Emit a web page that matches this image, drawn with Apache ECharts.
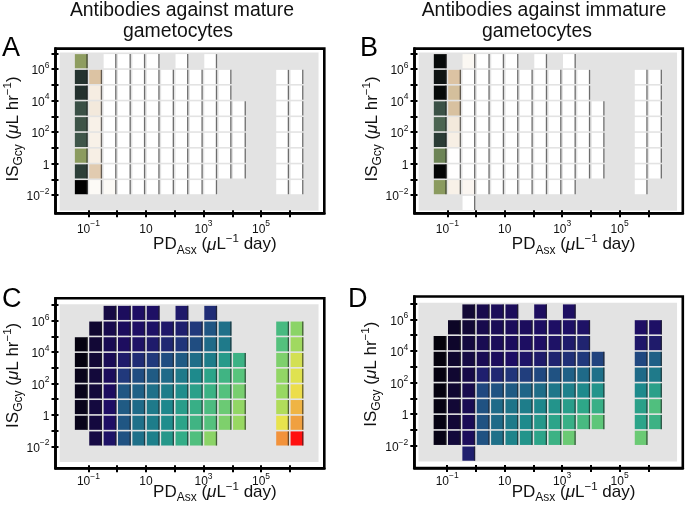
<!DOCTYPE html>
<html><head><meta charset="utf-8">
<script src="https://cdn.jsdelivr.net/npm/echarts@6/dist/echarts.min.js"></script>
<style>html,body{margin:0;padding:0;background:#fff}#c{width:685px;height:505px}</style>
</head><body><div id="c"></div>
<script>
const n = null;
// log10 lower edges of the bins
const xBinLows = [-1.5,-1,-0.5,0,0.5,1,1.5,2,2.5,3,3.5,4,4.5,5,5.5,6];
const yBinLows = [6,5,4,3,2,1,0,-1,-2,-3]; // rows top -> bottom
const xTickExps = [-1,0,1,2,3,4,5,6];
const yTickExps = [-2,-1,0,1,2,3,4,5,6,7];
const xLabelExps = [-1,1,3,5];
const xTickLabels = ['10^−1','10','10^3','10^5'];
const yLabelExps = [6,4,2,0,-2];
const yTickLabels = ['10^6','10^4','10^2','1','10^−2'];
const titles = ['Antibodies against mature\ngametocytes','Antibodies against immature\ngametocytes'];
const panelLetters = ['A','B','C','D'];

const valuesA = [
 [3.0, n, 0,0,0,0, n, 0, n, 0, n,n,n,n,n,n],
 [7.0, 2.0, 0,0,0,0,0,0,0,0,0, n,n,n, 0,0],
 [7.05,1.0, 0,0,0,0,0,0,0,0,0, n,n,n, 0,0],
 [6.0, 1.1, 0,0,0,0,0,0,0,0,0,0, n,n, 0,0],
 [5.8, 0.8, 0,0,0,0,0,0,0,0,0,0, n,n, 0,0],
 [5.7, 0.8, 0,0,0,0,0,0,0,0,0,0, n,n, 0,0],
 [3.1, 0.9, 0,0,0,0,0,0,0,0,0,0, n,n, 0,0],
 [6.6, 1.8, 0,0,0,0,0,0,0,0,0,0, n,n, 0,0],
 [8.0, 0.3, 0.3,0,0,0,0,0,0,0, n,n,n,n, 0,0],
 [n,n,n,n,n,n,n,n,n,n,n,n,n,n,n,n]
];
const valuesB = [
 [7.8, n, 0.4,0,0,0, n, 0, n, 0, n,n,n,n,n,n],
 [7.6, 2.0, 0,0,0,0,0,0,0,0,0, n,n,n, 0,0],
 [7.8, 2.1, 0,0,0,0,0,0,0,0,0, n,n,n, 0,0],
 [5.9, 2.05,0,0,0,0,0,0,0,0,0,0, n,n, 0,0],
 [5.0, 1.1, 0,0,0,0,0,0,0,0,0,0, n,n, 0,0],
 [6.7, 0.9, 0,0,0,0,0,0,0,0,0,0, n,n, 0,0],
 [4.0, 0.05,0,0,0,0,0,0,0,0,0,0, n,n, 0,0],
 [7.9, 0.05,0,0,0,0,0,0,0,0,0,0, n,n, 0,0],
 [3.1, 0.8, 0.5,0,0,0,0,0,0,0, n,n,n,n, 0,n],
 [n,n,0,n,n,n,n,n,n,n,n,n,n,n,n,n]
];
const valuesC = [
 [n,n,1.3,1.85,2.0,2.05,n,2.25,n,2.7,n,n,n,n,n,n],
 [n,0.9,1.5,1.85,2.0,2.1,2.2,2.4,3.0,3.6,4.2,n,n,n,6.6,7.8],
 [0.3,1.0,1.6,1.9,2.1,2.3,2.6,2.9,3.4,4.0,4.5,n,n,n,6.9,8.1],
 [0.3,1.0,1.7,2.3,2.7,3.0,3.4,3.7,4.1,4.6,5.5,6.3,n,n,7.6,8.7],
 [0.5,1.1,1.8,3.0,3.4,3.7,4.0,4.5,5.0,5.8,6.4,7.0,n,n,7.9,8.85],
 [0.5,1.1,1.9,3.6,3.8,4.2,4.6,5.1,5.7,6.3,6.9,7.5,n,n,8.0,9.1],
 [0.5,1.2,2.0,3.7,4.0,4.5,4.9,5.6,6.2,6.7,7.3,7.9,n,n,8.3,9.7],
 [0.5,1.2,2.0,3.6,4.2,4.6,5.1,5.8,6.4,6.9,7.6,8.0,n,n,8.95,10.0],
 [n,1.3,2.1,3.5,4.2,4.7,5.4,6.1,6.8,7.8,n,n,n,n,10.1,11],
 [n,n,n,n,n,n,n,n,n,n,n,n,n,n,n,n]
];
const valuesD = [
 [n,n,1.0,1.5,1.75,1.8,n,1.9,n,1.95,n,n,n,n,n,n],
 [n,0.7,1.0,1.5,1.7,1.8,1.85,1.95,2.0,2.05,2.1,n,n,n,2.0,2.05],
 [0.2,0.8,1.2,1.6,1.75,1.85,1.95,2.0,2.1,2.3,2.5,n,n,n,2.2,2.3],
 [0.25,0.85,1.3,1.65,1.85,2.0,2.15,2.3,2.5,2.8,3.0,3.2,n,n,3.3,3.8],
 [0.3,0.9,1.4,2.4,2.6,2.9,3.1,3.3,3.5,3.8,4.0,4.2,n,n,4.0,4.5],
 [0.3,0.9,1.5,3.3,3.5,3.7,3.9,4.1,4.4,4.7,5.0,5.3,n,n,5.0,5.7],
 [0.35,1.0,1.6,3.5,4.0,4.3,4.6,4.9,5.3,5.6,5.9,6.2,n,n,5.7,6.8],
 [0.35,1.0,1.7,3.5,4.0,4.5,5.0,5.4,5.8,6.2,6.6,7.1,n,n,5.8,6.3],
 [0.4,1.1,1.8,3.5,4.2,4.8,5.3,5.8,6.3,7.3,n,n,n,n,7.3,n],
 [n,n,2.4,n,n,n,n,n,n,n,n,n,n,n,n,n]
];

const paletteAB = ['#ffffff','#f6ede2','#dcc3a3','#8e9d60','#6d8456','#4c6552','#3a5046','#25332f','#000000'];
const paletteCD = ['#000000','#120836','#1e0e64','#21397c','#1f6a88','#1e8a8c','#30aa88','#58c47c','#98d862','#ece44c','#f0a040','#ff1010'];

const FONT = '"Liberation Sans", Arial, Helvetica, sans-serif';
const X_MIN = -2.145, X_MAX = 7.2;
const BG_X = [-2, 7], BG_Y = [-3, 7.05];

const layout = [
 {left:55.5, top:48.6, width:268.8, height:164.7, yMin:-3.16, yMax:7.30, lm:6, ng:20, yng:30.5, yp:4},
 {left:414.5, top:48.6, width:268.3, height:164.7, yMin:-3.16, yMax:7.30, lm:6, ng:20, yng:30.5, yp:4},
 {left:55.5, top:298.3, width:268.8, height:170, yMin:-3.40, yMax:7.43, lm:3.5, ng:12.8, yng:30.5, yp:16},
 {left:414.3, top:296.5, width:268.5, height:171.5, yMin:-3.41, yMax:7.45, lm:3.5, ng:12.5, yng:31.8, yp:16}
];

const tickRich = {
  b:{fontSize:12, fontFamily:FONT, color:'#111', lineHeight:16, verticalAlign:'bottom'},
  s:{fontSize:8.5, fontFamily:FONT, color:'#111', lineHeight:16, verticalAlign:'top'}
};
const nameRich = {
  n:{fontSize:17, fontFamily:FONT, color:'#111', lineHeight:23, verticalAlign:'middle'},
  i:{fontSize:17, fontFamily:FONT, color:'#111', lineHeight:23, verticalAlign:'middle', fontStyle:'italic'},
  sub:{fontSize:12, fontFamily:FONT, color:'#111', lineHeight:23, verticalAlign:'bottom'},
  sup:{fontSize:11.5, fontFamily:FONT, color:'#111', lineHeight:23, verticalAlign:'top'}
};
function fmtLabel(s){ const p = s.split('^'); return p[1] ? '{b|'+p[0]+'}{s|'+p[1]+'}' : '{b|'+p[0]+'}'; }
function xFmt(v){ const k = xLabelExps.indexOf(Math.round(v)); return k < 0 ? '' : fmtLabel(xTickLabels[k]); }
function yFmt(v){ const k = yLabelExps.indexOf(Math.round(v)); return k < 0 ? '' : fmtLabel(yTickLabels[k]); }
const xName = '{n|PD}{sub|Asx}{n| (}{i|μ}{n|L}{sup|−1}{n| day)}';
const yName = '{n|IS}{sub|Gcy}{n| (}{i|μ}{n|L hr}{sup|−1}{n|)}';

function cellsData(values){
  const out = [];
  values.forEach((row,r)=>row.forEach((v,c)=>{ if(v!==null) out.push([xBinLows[c], yBinLows[r], v]); }));
  return out;
}
function cellRender(params, api){
  const x0 = api.value(0), y0 = api.value(1);
  const p0 = api.coord([x0, y0+1]);
  const p1 = api.coord([x0+0.5, y0]);
  const g = 0.8;
  const x = p0[0]+g, y = p0[1]+g, w = p1[0]-p0[0]-2*g, h = p1[1]-p0[1]-2*g;
  return {type:'group', children:[
    {type:'rect', shape:{x:x, y:y, width:w, height:h}, style:{fill:api.visual('color')}},
    {type:'line', shape:{x1:x+w-0.6, y1:y, x2:x+w-0.6, y2:y+h}, style:{stroke:'rgba(30,30,30,0.65)', lineWidth:1.3}}
  ]};
}
function bgRender(params, api){
  const p0 = api.coord([api.value(0), api.value(3)]);
  const p1 = api.coord([api.value(2), api.value(1)]);
  return {type:'rect', shape:{x:p0[0], y:p0[1], width:p1[0]-p0[0], height:p1[1]-p0[1]}, style:{fill:'#e3e3e3'}};
}

const grids=[], xAxes=[], yAxes=[], series=[];
const allValues = [valuesA, valuesB, valuesC, valuesD];
const tickLine = {color:'#000', width:2};
layout.forEach((L,i)=>{
  grids.push({left:L.left, top:L.top, width:L.width, height:L.height, show:true, borderColor:'#000', borderWidth:2.6, backgroundColor:'#fff', outerBoundsMode:'none', containLabel:false, z:0});
  xAxes.push({gridIndex:i, type:'value', min:X_MIN, max:X_MAX, position:'bottom', z:5,
    axisLine:{show:true, onZero:false, lineStyle:{color:'#000', width:2.6}}, splitLine:{show:false},
    axisTick:{show:true, length:4, customValues:xTickExps, lineStyle:tickLine},
    axisLabel:{show:true, customValues:xTickExps, margin:L.lm, formatter:xFmt, rich:tickRich},
    name:xName, nameLocation:'middle', nameGap:L.ng, nameMoveOverlap:false, nameTextStyle:{rich:nameRich, padding:[0,0,0,50]}});
  yAxes.push({gridIndex:i, type:'value', min:L.yMin, max:L.yMax, position:'left', z:5,
    axisLine:{show:true, onZero:false, lineStyle:{color:'#000', width:2.6}}, splitLine:{show:false},
    axisTick:{show:true, length:4, customValues:yTickExps, lineStyle:tickLine},
    axisLabel:{show:true, customValues:yTickExps, margin:6, formatter:yFmt, rich:tickRich},
    name:yName, nameLocation:'middle', nameRotate:90, nameGap:L.yng, nameMoveOverlap:false, nameTextStyle:{rich:nameRich, padding:[0,0,0,L.yp]}});
});
// inner halves of the ticks (same scales, ticks pointing inside)
layout.forEach((L,i)=>{
  xAxes.push({gridIndex:i, type:'value', min:X_MIN, max:X_MAX, position:'bottom', z:5,
    axisLine:{show:false, onZero:false}, splitLine:{show:false},
    axisLabel:{show:true, customValues:xTickExps, formatter:()=>''},
    axisTick:{show:true, inside:true, length:3, customValues:xTickExps, lineStyle:tickLine}});
  yAxes.push({gridIndex:i, type:'value', min:L.yMin, max:L.yMax, position:'left', z:5,
    axisLine:{show:false, onZero:false}, splitLine:{show:false},
    axisLabel:{show:true, customValues:yTickExps, formatter:()=>''},
    axisTick:{show:true, inside:true, length:3, customValues:yTickExps, lineStyle:tickLine}});
});
layout.forEach((L,i)=>{
  series.push({type:'custom', xAxisIndex:i, yAxisIndex:i, renderItem:bgRender, data:[[BG_X[0], BG_Y[0], BG_X[1], BG_Y[1]]], silent:true, z:1});
  series.push({type:'custom', xAxisIndex:i, yAxisIndex:i, renderItem:cellRender, data:cellsData(allValues[i]), encode:{x:0,y:1}, silent:true, z:2});
});

const titleFont = '19.4px ' + FONT;
const letterFont = '27px ' + FONT;
const graphic = [];
const titlePos = [{x1:182, x2:178}, {x1:544, x2:537}];
titles.forEach((t,k)=>{
  const lines = t.split('\n');
  graphic.push({type:'text', x:titlePos[k].x1, y:11, style:{text:lines[0], font:titleFont, fill:'#111', textAlign:'center', textVerticalAlign:'middle'}});
  graphic.push({type:'text', x:titlePos[k].x2, y:31.5, style:{text:lines[1], font:titleFont, fill:'#111', textAlign:'center', textVerticalAlign:'middle'}});
});
const letterPos = [[2,49],[360,49],[2,300],[348,300]];
panelLetters.forEach((l,k)=>{
  graphic.push({type:'text', x:letterPos[k][0], y:letterPos[k][1], style:{text:l, font:letterFont, fill:'#000', textAlign:'left', textVerticalAlign:'middle'}});
});

const chart = echarts.init(document.getElementById('c'), null, {renderer:'canvas'});
chart.setOption({
  animation:false,
  backgroundColor:'#fff',
  grid:grids, xAxis:xAxes, yAxis:yAxes,
  visualMap:[
    {type:'continuous', show:false, min:0, max:8, dimension:2, seriesIndex:[1,3], inRange:{color:paletteAB}},
    {type:'continuous', show:false, min:0, max:11, dimension:2, seriesIndex:[5,7], inRange:{color:paletteCD}}
  ],
  graphic:graphic,
  series:series
});
</script></body></html>
